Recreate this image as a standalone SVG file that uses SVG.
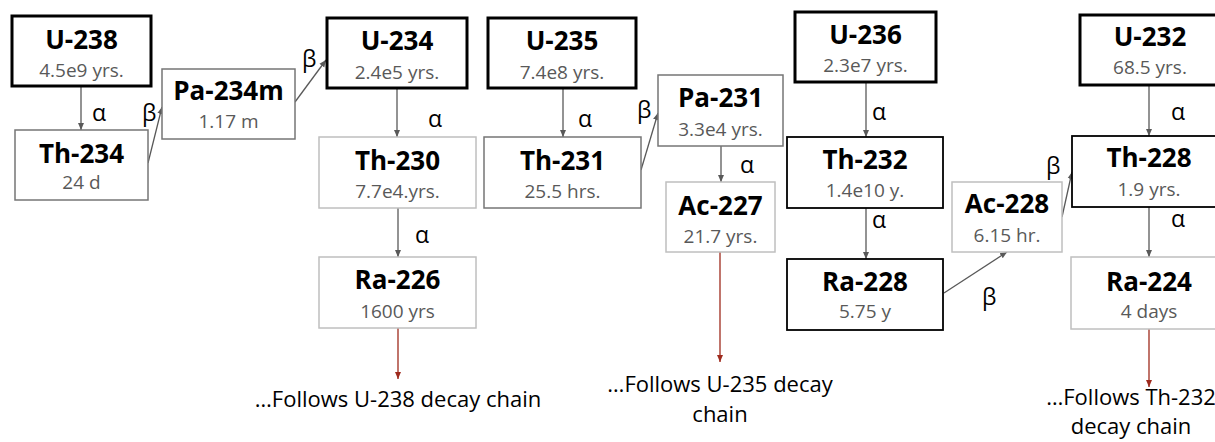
<svg xmlns="http://www.w3.org/2000/svg" width="1215" height="442" viewBox="0 0 1215 442">
<style>
.bx{fill:#fff}
.k3{stroke:#000;stroke-width:3}
.k2{stroke:#000;stroke-width:1.8}
.g1{stroke:#767676;stroke-width:1.5}
.g2{stroke:#bfbfbf;stroke-width:1.5}
.t{font-family:"Open Sans","Liberation Sans",sans-serif;font-weight:bold;font-size:26px;fill:#000;text-anchor:middle}
.s{font-family:"Open Sans","Liberation Sans",sans-serif;font-size:19px;fill:#595959;text-anchor:middle}
.gk{font-family:"Open Sans","Liberation Sans",sans-serif;font-size:23px;fill:#000}
.ft{font-family:"Open Sans","Liberation Sans",sans-serif;font-size:22px;fill:#000;text-anchor:middle}
.c{stroke:#595959;stroke-width:1.3;fill:none;marker-end:url(#ah)}
.r{stroke:#9e2a1d;stroke-width:1.3;fill:none;marker-end:url(#ahr)}
</style>
<defs>
<marker id="ah" markerUnits="userSpaceOnUse" markerWidth="8" markerHeight="8" refX="7" refY="4" orient="auto"><path d="M0,1 L7,4 L0,7 z" fill="#595959"/></marker>
<marker id="ahr" markerUnits="userSpaceOnUse" markerWidth="8" markerHeight="8" refX="7" refY="4" orient="auto"><path d="M0,1 L7,4 L0,7 z" fill="#9e2a1d"/></marker>
</defs>
<rect width="1215" height="442" fill="#fff"/>
<g id="connectors">
<line class="c" x1="81" y1="87" x2="81" y2="130"/>
<line class="c" x1="148" y1="163" x2="162" y2="107"/>
<line class="c" x1="295" y1="102" x2="326" y2="60"/>
<line class="c" x1="397" y1="89" x2="397" y2="137"/>
<line class="c" x1="398" y1="208" x2="398" y2="257"/>
<line class="r" x1="398" y1="328" x2="398" y2="379"/>
<line class="c" x1="563" y1="89" x2="563" y2="137"/>
<line class="c" x1="641" y1="170" x2="658" y2="113"/>
<line class="c" x1="721" y1="146" x2="721" y2="182"/>
<line class="r" x1="720" y1="252" x2="720" y2="362"/>
<line class="c" x1="866" y1="82" x2="866" y2="137"/>
<line class="c" x1="866" y1="208" x2="866" y2="259"/>
<line class="c" x1="944" y1="293" x2="1007" y2="252"/>
<line class="c" x1="1062" y1="217" x2="1072" y2="172"/>
<line class="c" x1="1149" y1="85" x2="1149" y2="136"/>
<line class="c" x1="1149" y1="207" x2="1149" y2="257"/>
<line class="r" x1="1149" y1="329" x2="1149" y2="387"/>
<text class="gk" x="92" y="121">α</text>
<text class="gk" x="142" y="121">β</text>
<text class="gk" x="302" y="67">β</text>
<text class="gk" x="428" y="127">α</text>
<text class="gk" x="415" y="243">α</text>
<text class="gk" x="578" y="127">α</text>
<text class="gk" x="637" y="118">β</text>
<text class="gk" x="740" y="173">α</text>
<text class="gk" x="872" y="120">α</text>
<text class="gk" x="872" y="228">α</text>
<text class="gk" x="982" y="305">β</text>
<text class="gk" x="1046" y="174">β</text>
<text class="gk" x="1171" y="120">α</text>
<text class="gk" x="1171" y="227">α</text>
</g>
<g id="U-238"><rect class="bx k3" x="12" y="16" width="139" height="70"/><text class="t" x="81.5" y="49">U-238</text><text class="s" x="81.5" y="77">4.5e9 yrs.</text></g>
<g id="Th-234"><rect class="bx g1" x="15" y="130" width="133" height="70"/><text class="t" x="81.5" y="163">Th-234</text><text class="s" x="81.5" y="189">24 d</text></g>
<g id="Pa-234m"><rect class="bx g1" x="162" y="69" width="133" height="70"/><text class="t" x="228.5" y="100">Pa-234m</text><text class="s" x="228.5" y="128">1.17 m</text></g>
<g id="U-234"><rect class="bx k3" x="327" y="18" width="140" height="70"/><text class="t" x="397" y="50">U-234</text><text class="s" x="397" y="79">2.4e5 yrs.</text></g>
<g id="Th-230"><rect class="bx g2" x="319" y="137" width="157" height="71"/><text class="t" x="397.5" y="170">Th-230</text><text class="s" x="397.5" y="198">7.7e4.yrs.</text></g>
<g id="Ra-226"><rect class="bx g2" x="319" y="257" width="157" height="71"/><text class="t" x="397.5" y="289">Ra-226</text><text class="s" x="397.5" y="318">1600 yrs</text></g>
<g id="U-235"><rect class="bx k3" x="488" y="18" width="148" height="70"/><text class="t" x="562" y="50">U-235</text><text class="s" x="562" y="79">7.4e8 yrs.</text></g>
<g id="Th-231"><rect class="bx g1" x="484" y="137" width="157" height="71"/><text class="t" x="562.5" y="170">Th-231</text><text class="s" x="562.5" y="198">25.5 hrs.</text></g>
<g id="Pa-231"><rect class="bx g1" x="658" y="75" width="125" height="71"/><text class="t" x="720.5" y="107">Pa-231</text><text class="s" x="720.5" y="136">3.3e4 yrs.</text></g>
<g id="Ac-227"><rect class="bx g2" x="666" y="182" width="109" height="70"/><text class="t" x="720.5" y="215">Ac-227</text><text class="s" x="720.5" y="243">21.7 yrs.</text></g>
<g id="U-236"><rect class="bx k3" x="795" y="12" width="141" height="70"/><text class="t" x="865.5" y="44">U-236</text><text class="s" x="865.5" y="72">2.3e7 yrs.</text></g>
<g id="Th-232"><rect class="bx k2" x="787" y="137" width="156" height="71"/><text class="t" x="865" y="169">Th-232</text><text class="s" x="865" y="197">1.4e10 y.</text></g>
<g id="Ra-228"><rect class="bx k2" x="787" y="259" width="156" height="71"/><text class="t" x="865" y="291">Ra-228</text><text class="s" x="865" y="318">5.75 y</text></g>
<g id="Ac-228"><rect class="bx g2" x="952" y="182" width="110" height="70"/><text class="t" x="1007" y="213">Ac-228</text><text class="s" x="1007" y="242">6.15 hr.</text></g>
<g id="U-232"><rect class="bx k3" x="1080" y="15" width="140" height="70"/><text class="t" x="1150" y="46">U-232</text><text class="s" x="1150" y="74">68.5 yrs.</text></g>
<g id="Th-228"><rect class="bx k2" x="1072" y="136" width="154" height="71"/><text class="t" x="1149" y="167">Th-228</text><text class="s" x="1149" y="196">1.9 yrs.</text></g>
<g id="Ra-224"><rect class="bx g2" x="1071" y="257" width="155" height="72"/><text class="t" x="1149" y="291">Ra-224</text><text class="s" x="1149" y="318">4 days</text></g>
<g id="U-238-chain"><text class="ft" x="398" y="407">…Follows U-238 decay chain</text></g>
<g id="U-235-chain"><text class="ft" x="720" y="392">…Follows U-235 decay</text><text class="ft" x="720" y="422">chain</text></g>
<g id="Th-232-chain"><text class="ft" x="1131" y="405">…Follows Th-232</text><text class="ft" x="1131" y="434">decay chain</text></g>
</svg>
